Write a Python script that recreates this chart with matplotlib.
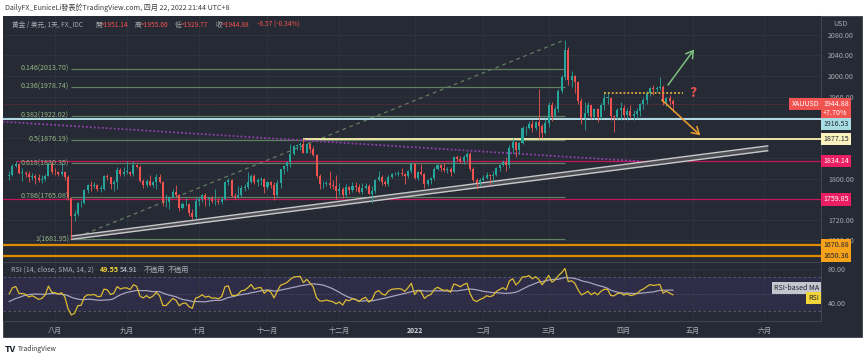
import matplotlib
matplotlib.use('Agg')
import matplotlib.pyplot as plt
import matplotlib.transforms as mtransforms
from matplotlib.patches import Rectangle
import numpy as np
import pandas as pd

plt.rcParams['font.family'] = ['Noto Sans CJK TC', 'DejaVu Sans']

W, H = 865, 359
FS = 5.1

# closes before the first visible bar, only to warm up the RSI (Jun 1 - Jul 12 2021)
pre_closes = [1903, 1908, 1871, 1891, 1899, 1893, 1888, 1898, 1877, 1866,
              1859, 1811, 1774, 1764, 1782, 1778, 1779, 1776, 1781, 1779,
              1761, 1770, 1776, 1787, 1791, 1797, 1803, 1804, 1808, 1805]

# daily OHLC, one list per month (business days)
jul21 = [(1805, 1816, 1798, 1808), (1808, 1829, 1806, 1825), (1825, 1834, 1822, 1829),
         (1829, 1831, 1809, 1812), (1812, 1820, 1795, 1812), (1812, 1816, 1804, 1810),
         (1810, 1815, 1794, 1803), (1803, 1812, 1797, 1806), (1806, 1809, 1790, 1802),
         (1802, 1810, 1793, 1797), (1797, 1807, 1792, 1799), (1799, 1810, 1796, 1806),
         (1806, 1832, 1805, 1828), (1828, 1832, 1810, 1814)]
aug21 = [(1814, 1820, 1807, 1813), (1813, 1816, 1805, 1810), (1810, 1832, 1805, 1813),
         (1813, 1816, 1798, 1804), (1804, 1807, 1759, 1763), (1763, 1765, 1682, 1728),
         (1728, 1740, 1718, 1732), (1732, 1754, 1727, 1752), (1752, 1758, 1745, 1753),
         (1753, 1781, 1751, 1779), (1779, 1790, 1772, 1787), (1787, 1796, 1776, 1786),
         (1786, 1794, 1782, 1788), (1788, 1790, 1776, 1781), (1781, 1788, 1774, 1781),
         (1781, 1807, 1779, 1805), (1805, 1809, 1797, 1803), (1803, 1804, 1781, 1789),
         (1789, 1797, 1777, 1793), (1793, 1823, 1781, 1817), (1817, 1820, 1806, 1810),
         (1810, 1822, 1806, 1814)]
sep21 = [(1814, 1834, 1809, 1814), (1814, 1816, 1806, 1810), (1810, 1834, 1805, 1827),
         (1827, 1828, 1820, 1823), (1823, 1827, 1793, 1795), (1795, 1800, 1782, 1788),
         (1788, 1800, 1783, 1795), (1795, 1808, 1786, 1787), (1787, 1796, 1783, 1793),
         (1793, 1809, 1780, 1804), (1804, 1809, 1792, 1794), (1794, 1796, 1746, 1754),
         (1754, 1770, 1745, 1754), (1754, 1767, 1742, 1764), (1764, 1781, 1762, 1775),
         (1775, 1788, 1764, 1768), (1768, 1770, 1738, 1743), (1743, 1754, 1741, 1750),
         (1750, 1762, 1747, 1751), (1751, 1752, 1727, 1734), (1734, 1741, 1722, 1726),
         (1726, 1764, 1721, 1757)]
oct21 = [(1757, 1765, 1746, 1761), (1761, 1770, 1755, 1769), (1769, 1773, 1746, 1760),
         (1760, 1765, 1746, 1763), (1763, 1766, 1752, 1756), (1756, 1781, 1749, 1757),
         (1757, 1762, 1750, 1754), (1754, 1765, 1750, 1760), (1760, 1796, 1758, 1793),
         (1793, 1801, 1787, 1797), (1797, 1800, 1764, 1767), (1767, 1773, 1760, 1765),
         (1765, 1785, 1763, 1769), (1769, 1788, 1765, 1782), (1782, 1790, 1776, 1784),
         (1784, 1814, 1781, 1793), (1793, 1809, 1792, 1806), (1806, 1810, 1789, 1793),
         (1793, 1802, 1785, 1798), (1798, 1803, 1788, 1799), (1799, 1801, 1772, 1783)]
nov21 = [(1783, 1796, 1780, 1793), (1793, 1796, 1782, 1788), (1788, 1793, 1759, 1769),
         (1769, 1797, 1764, 1792), (1792, 1819, 1782, 1818), (1818, 1827, 1809, 1824),
         (1824, 1833, 1815, 1832), (1832, 1868, 1822, 1849), (1849, 1866, 1846, 1863),
         (1863, 1868, 1855, 1865), (1865, 1871, 1856, 1867), (1867, 1877, 1851, 1851),
         (1851, 1870, 1850, 1868), (1868, 1870, 1850, 1858), (1858, 1864, 1844, 1846),
         (1846, 1849, 1802, 1805), (1805, 1810, 1780, 1789), (1789, 1795, 1782, 1789),
         (1789, 1796, 1785, 1792), (1792, 1815, 1782, 1788), (1788, 1798, 1780, 1785),
         (1785, 1808, 1761, 1776)]
dec21 = [(1776, 1792, 1769, 1781), (1781, 1783, 1762, 1768), (1768, 1789, 1764, 1783),
         (1783, 1786, 1771, 1779), (1779, 1793, 1775, 1785), (1785, 1793, 1777, 1783),
         (1783, 1790, 1772, 1775), (1775, 1791, 1770, 1782), (1782, 1792, 1781, 1786),
         (1786, 1789, 1770, 1770), (1770, 1785, 1753, 1777), (1777, 1800, 1773, 1798),
         (1798, 1815, 1796, 1804), (1804, 1807, 1787, 1794), (1794, 1798, 1786, 1790),
         (1790, 1808, 1785, 1803), (1803, 1812, 1801, 1809), (1809, 1813, 1807, 1810),
         (1810, 1815, 1806, 1811), (1811, 1820, 1806, 1810), (1810, 1812, 1790, 1805),
         (1805, 1817, 1801, 1815), (1815, 1832, 1812, 1829)]
jan22 = [(1829, 1831, 1799, 1801), (1801, 1815, 1798, 1814), (1814, 1829, 1807, 1810),
         (1810, 1811, 1782, 1789), (1789, 1799, 1786, 1797), (1797, 1804, 1790, 1801),
         (1801, 1822, 1797, 1818), (1818, 1829, 1817, 1826), (1826, 1829, 1815, 1821),
         (1821, 1830, 1814, 1817), (1817, 1823, 1812, 1819), (1819, 1822, 1805, 1813),
         (1813, 1845, 1812, 1842), (1842, 1847, 1834, 1839), (1839, 1844, 1831, 1835),
         (1835, 1846, 1829, 1843), (1843, 1853, 1835, 1848), (1848, 1852, 1815, 1819),
         (1819, 1822, 1794, 1797), (1797, 1801, 1780, 1791), (1791, 1801, 1786, 1797)]
feb22 = [(1797, 1807, 1795, 1801), (1801, 1813, 1799, 1808), (1808, 1809, 1788, 1805),
         (1805, 1815, 1792, 1808), (1808, 1822, 1806, 1820), (1820, 1829, 1816, 1826),
         (1826, 1836, 1825, 1832), (1832, 1842, 1815, 1827), (1827, 1865, 1821, 1860),
         (1860, 1879, 1850, 1871), (1871, 1872, 1843, 1855), (1855, 1872, 1848, 1870),
         (1870, 1902, 1867, 1898), (1898, 1902, 1886, 1898), (1898, 1913, 1896, 1906),
         (1906, 1914, 1891, 1898), (1898, 1912, 1895, 1910), (1910, 1974, 1878, 1903),
         (1903, 1906, 1879, 1889), (1889, 1917, 1888, 1909)]
mar22 = [(1909, 1950, 1900, 1943), (1943, 1950, 1913, 1922), (1922, 1942, 1920, 1936),
         (1936, 1974, 1929, 1970), (1970, 2002, 1967, 1998), (1998, 2070, 1993, 2050),
         (2050, 2056, 1983, 1992), (1992, 2009, 1978, 2000), (2000, 2001, 1967, 1988),
         (1988, 1991, 1945, 1951), (1951, 1957, 1906, 1918), (1918, 1950, 1895, 1928),
         (1928, 1949, 1922, 1943), (1943, 1944, 1917, 1921), (1921, 1938, 1916, 1935),
         (1935, 1937, 1910, 1921), (1921, 1947, 1917, 1944), (1944, 1966, 1934, 1958),
         (1958, 1966, 1945, 1958), (1958, 1960, 1915, 1922), (1922, 1925, 1890, 1920),
         (1920, 1938, 1914, 1933), (1933, 1949, 1915, 1937)]
apr22 = [(1937, 1944, 1916, 1925), (1925, 1937, 1915, 1932), (1932, 1944, 1918, 1923),
         (1923, 1933, 1915, 1926), (1926, 1937, 1918, 1932), (1932, 1948, 1923, 1946),
         (1946, 1959, 1936, 1954), (1954, 1970, 1945, 1966), (1966, 1978, 1961, 1977),
         (1977, 1982, 1962, 1974), (1974, 1980, 1968, 1976), (1976, 1998, 1972, 1979),
         (1979, 1983, 1944, 1950), (1950, 1960, 1942, 1958), (1958, 1962, 1943, 1951),
         (1951.14, 1955.60, 1929.77, 1944.88)]

first_day = '2021-07-13'
month_names = {8: '八月', 9: '九月', 10: '十月', 11: '十一月', 12: '十二月', 1: '2022',
               2: '二月', 3: '三月', 4: '四月', 5: '五月', 6: '六月'}

fib_levels = ['0.146', '0.236', '0.382', '0.5', '0.618', '0.786', '1']
fib_prices = [2013.70, 1978.74, 1922.02, 1876.19, 1830.35, 1765.08, 1681.95]
fib_top = 2070.42
fib_from, fib_to = '2021-08-09', '2022-03-08'

# horizontal levels: price, start date (None = whole chart), colour, width
level_lines = [(1916.53, None, '#b4dde6', 1.4),
               (1877.15, '2021-11-16', '#efe4a6', 1.4),
               (1834.14, '2021-07-15', '#c2185b', 0.9),
               (1759.85, None, '#c2185b', 0.9),
               (1670.88, None, '#e08a00', 1.6),
               (1650.36, None, '#e08a00', 1.6)]

purple_line = [('2021-07-09', 1911), ('2022-04-08', 1834)]
channel_low = [('2021-08-09', 1681.95), ('2022-06-02', 1854.5)]
channel_high = [('2021-08-09', 1688.5), ('2022-06-02', 1864)]
resist_line = [('2022-03-24', 1966), ('2022-04-27', 1966)]
arrow_up = [('2022-04-20', 1978), ('2022-05-03', 2056)]
arrow_down = [('2022-04-18', 1957), ('2022-05-05', 1881)]
question = ('2022-05-02', 1966)

last_price = 1944.88
rsi_val, rsi_ma_val = '49.55', '54.91'
price_ticks = [1680, 1720, 1800, 1960, 2000, 2040, 2080]
hidden_ticks = [1760, 1840, 1880, 1920]

BG = '#262a34'
GRID = '#30343f'
SEP = '#3f434e'
TXT = '#a7aab3'
UP = '#26a69a'
DN = '#ef5350'


def pos(d):
    return float(np.busday_count(np.datetime64(first_day), np.datetime64(d)))


def ftext(px, py, s, color, size, **kw):
    fig.text(px / W, 1 - py / H, s, color=color, fontsize=size, va='center', **kw)


bars = [b for m in [jul21, aug21, sep21, oct21, nov21, dec21, jan22, feb22, mar22, apr22] for b in m]
o = np.array([b[0] for b in bars], float)
h = np.array([b[1] for b in bars], float)
l = np.array([b[2] for b in bars], float)
c = np.array([b[3] for b in bars], float)
x = np.arange(len(bars))

# RSI (Wilder) and its 14 SMA
closes = pd.Series(list(pre_closes) + list(c))
d = closes.diff()
g = d.clip(lower=0).ewm(alpha=1 / 14, adjust=False).mean()
ls = (-d.clip(upper=0)).ewm(alpha=1 / 14, adjust=False).mean()
rsi = 100 - 100 / (1 + g / ls)
rsi_ma = rsi.rolling(14).mean()
rsi = rsi.values[len(pre_closes):]
rsi_ma = rsi_ma.values[len(pre_closes):]

# month ticks
all_days = pd.bdate_range(first_day, '2022-06-30')
tick_pos, tick_lab = [], []
for i in range(1, len(all_days)):
    if all_days[i].month != all_days[i - 1].month:
        tick_pos.append(i)
        tick_lab.append(month_names[all_days[i].month])

fig = plt.figure(figsize=(W / 100, H / 100), dpi=100)
fig.patch.set_facecolor('white')
fig.patches.append(Rectangle((3 / W, 1 - 337 / H), 859 / W, 321 / H, transform=fig.transFigure,
                             fc=BG, ec='#3a3e48', lw=0.6, zorder=-5))

ax = fig.add_axes([3 / W, 1 - 262 / H, 818 / W, 246 / H])
rx = fig.add_axes([3 / W, 1 - 321 / H, 818 / W, 58 / H], sharex=ax)

for a in (ax, rx):
    a.set_zorder(3)
    a.set_facecolor(BG)
    for s in a.spines.values():
        s.set_visible(False)
    a.spines['right'].set_visible(True)
    a.spines['right'].set_color(SEP)
    a.spines['bottom'].set_visible(True)
    a.spines['bottom'].set_color(SEP)
    a.yaxis.tick_right()
    a.set_xticks(tick_pos)
    a.grid(True, which='both', color=GRID, lw=0.6)
    a.set_axisbelow(True)
    a.tick_params(which='both', length=0, labelsize=FS, labelcolor=TXT, pad=5)

ax.set_xlim(-1.9, 248.3)
ax.set_ylim(1638, 2116.7)
ax.set_yticks(price_ticks)
ax.set_yticklabels([f'{v:.2f}' for v in price_ticks])
ax.set_yticks(hidden_ticks, minor=True)
ax.tick_params(axis='x', labelbottom=False)

# candles
cols = np.where(c >= o, UP, DN)
ax.vlines(x, l, h, colors=cols, lw=0.6, zorder=4)
ax.bar(x, np.maximum(np.abs(c - o), 0.8), bottom=np.minimum(o, c), width=0.62,
       color=cols, lw=0, zorder=4)

# fibonacci
f0, f1 = pos(fib_from), pos(fib_to)
for lv, p in zip(fib_levels, fib_prices):
    ax.hlines(p, f0, f1, color='#5f8062', lw=0.9, zorder=3)
    ax.text(f0 - 0.7, p, f'{lv}({p:.2f})', ha='right', va='center', color='#95b985', fontsize=FS, zorder=6)
ax.plot([f0, f1], [fib_prices[-1], fib_top], color='#5f8062', lw=0.9, ls=(0, (3, 3)), zorder=3)

# horizontal levels
for p, start, col, lw in level_lines:
    x0 = -5 if start is None else pos(start)
    ax.hlines(p, x0, 300, color=col, lw=lw, zorder=3)
ax.hlines(last_price, -5, 300, color='#8c2f3c', lw=0.6, ls=(0, (1, 1.5)), zorder=3)

# purple dotted line
ax.plot([pos(p[0]) for p in purple_line], [p[1] for p in purple_line], color='#9140ad', lw=1.3,
        ls=(0, (1, 1.2)), zorder=3)

# rising channel
cx = [pos(p[0]) for p in channel_low]
ax.fill_between(cx, [p[1] for p in channel_low], [p[1] for p in channel_high], color='#4d4f55', lw=0, zorder=3)
ax.plot(cx, [p[1] for p in channel_low], color='#c9c9cc', lw=1.0, zorder=3)
ax.plot(cx, [p[1] for p in channel_high], color='#c9c9cc', lw=1.0, zorder=3)

# resistance and scenario arrows
ax.plot([pos(p[0]) for p in resist_line], [p[1] for p in resist_line], color='#c7a13a', lw=1.4,
        ls=(0, (1, 1)), zorder=5)
ax.annotate('', xy=(pos(arrow_up[1][0]), arrow_up[1][1]), xytext=(pos(arrow_up[0][0]), arrow_up[0][1]),
            arrowprops=dict(arrowstyle='->,head_length=0.5,head_width=0.3', color='#7dc17f', lw=1.1), zorder=6)
ax.annotate('', xy=(pos(arrow_down[1][0]), arrow_down[1][1]), xytext=(pos(arrow_down[0][0]), arrow_down[0][1]),
            arrowprops=dict(arrowstyle='->,head_length=0.5,head_width=0.3', color='#f0a030', lw=1.1), zorder=6)
ax.text(pos(question[0]), question[1], '?', color='#ef5350', fontsize=10, fontweight='bold',
        ha='center', va='center', zorder=6)


# price tags on the axis
def tag(a, y, s, fc, tc, dy=0, right=False):
    tr = mtransforms.blended_transform_factory(a.transAxes, a.transData)
    tr = mtransforms.offset_copy(tr, fig=fig, y=dy, units='dots')
    xx = 1 - 2 / 818 if right else 1 + 2 / 818
    a.text(xx, y, s, transform=tr, ha='right' if right else 'left', va='center', color=tc, fontsize=FS,
           linespacing=1.2, bbox=dict(boxstyle='square,pad=0.3', fc=fc, ec='none'), clip_on=False, zorder=10)


tag(ax, last_price, f'{last_price:.2f}\n+7.70%', '#f05350', 'white', dy=-4)
tag(ax, last_price, 'XAUUSD', '#f05350', 'white', right=True)
tag(ax, 1916.53, '1916.53', '#a9dde6', '#20242c', dy=-5)
tag(ax, 1877.15, '1877.15', '#fbf3bf', '#20242c')
tag(ax, 1834.14, '1834.14', '#e91e63', 'white')
tag(ax, 1759.85, '1759.85', '#e91e63', 'white')
tag(ax, 1670.88, '1670.88', '#f7a21b', '#20242c')
tag(ax, 1650.36, '1650.36', '#f7a21b', '#20242c')

# RSI pane
rx.set_ylim(18.3, 87.1)
rx.axhspan(30, 70, color='#2f2c48', lw=0, zorder=0)
for lvl, sty in ((70, (0, (3, 3))), (50, (0, (1, 2))), (30, (0, (3, 3)))):
    rx.axhline(lvl, color='#5d5f6c', lw=0.6, ls=sty, zorder=1)
rx.plot(x, rsi_ma, color='#a6a3bf', lw=0.9, zorder=3)
rx.plot(x, rsi, color='#dcbc34', lw=0.9, zorder=4)
rx.set_yticks([40, 80])
rx.set_yticklabels(['40.00', '80.00'])
rx.set_xticklabels(tick_lab)
rx.tick_params(axis='x', pad=4)
for t in rx.get_xticklabels():
    if t.get_text() == '2022':
        t.set_color('#d1d4dc')
        t.set_fontweight('bold')
tag(rx, 57.5, 'RSI-based MA', '#c4c6cf', '#20242c', right=True)
tag(rx, 45.5, 'RSI', '#f2d43b', '#20242c', right=True)

# header texts
LS = 4.8
ftext(5, 8, 'DailyFX_EuniceLi發表於TradingView.com, 四月 22, 2022 21:44 UTC+8', '#3a3a3a', 5.1)
ftext(12, 25, '黃金 / 美元, 1天, FX_IDC', TXT, LS)
for px, lab, val in ((95, '開', '=1951.14'), (135, '高', '=1955.60'), (175, '低', '=1929.77'),
                     (216, '收', '=1944.88')):
    ftext(px, 25, lab, TXT, LS)
    ftext(px + 5.5, 25, val, DN, LS)
ftext(257, 25, '-6.57 (-0.34%)', DN, LS)
ftext(833, 24, 'USD', TXT, FS)

ftext(11, 270, 'RSI (14, close, SMA, 14, 2)', TXT, FS)
ftext(100, 270, rsi_val, '#f2d43b', FS, fontweight='bold')
ftext(120, 270, rsi_ma_val, '#d1d4dc', FS)
ftext(144, 270, '不適用', TXT, FS)
ftext(168, 270, '不適用', TXT, FS)

ftext(5, 349, 'TV', '#131722', 6.5, fontweight='bold')
ftext(18, 349, 'TradingView', '#3a3a3a', 4.8)

fig.savefig('out.png', dpi=100, facecolor='white')
